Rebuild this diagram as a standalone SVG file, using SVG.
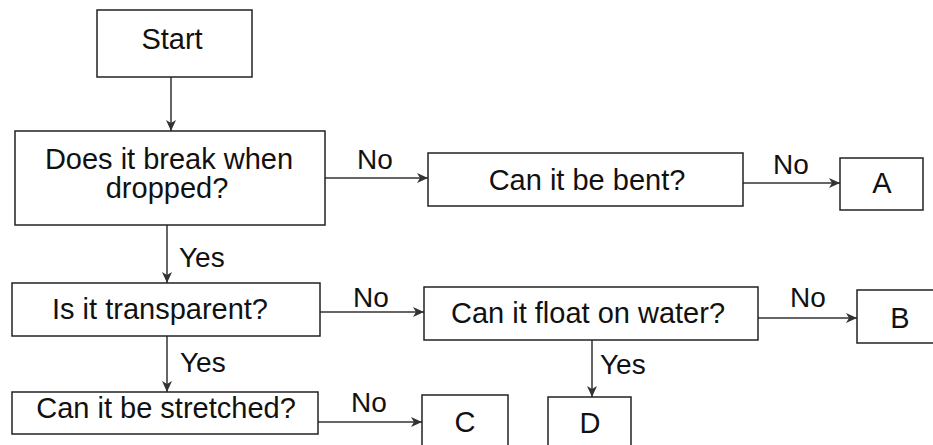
<svg xmlns="http://www.w3.org/2000/svg" width="933" height="445" viewBox="0 0 933 445">
<defs>
<style>
.box{fill:#fff;stroke:#222;stroke-width:1.5}
.t{font-family:"Liberation Sans",Arial,sans-serif;font-size:29px;fill:#111;text-anchor:middle}
.l{font-family:"Liberation Sans",Arial,sans-serif;font-size:28px;fill:#111}
.c{stroke:#333;stroke-width:1.5;fill:none;marker-end:url(#ah)}
</style>
<marker id="ah" markerWidth="12" markerHeight="10" refX="11" refY="5" orient="auto" markerUnits="userSpaceOnUse">
<path d="M0,0 L11,5 L0,10 L3,5 Z" fill="#333"/>
</marker>
</defs>
<rect width="933" height="445" fill="#fff"/>
<g id="connectors">
<line class="c" x1="171" y1="77" x2="171" y2="131"/>
<line class="c" x1="325" y1="178" x2="428" y2="178"/>
<line class="c" x1="743" y1="183" x2="840" y2="183"/>
<line class="c" x1="167" y1="225" x2="167" y2="283"/>
<line class="c" x1="320" y1="312" x2="424" y2="312"/>
<line class="c" x1="758" y1="318" x2="857" y2="318"/>
<line class="c" x1="592" y1="340" x2="592" y2="397"/>
<line class="c" x1="167" y1="336" x2="167" y2="392"/>
<line class="c" x1="318" y1="422" x2="422" y2="422"/>
<text class="l" x="375" y="169" text-anchor="middle">No</text>
<text class="l" x="791" y="174" text-anchor="middle">No</text>
<text class="l" x="179" y="267">Yes</text>
<text class="l" x="371" y="307" text-anchor="middle">No</text>
<text class="l" x="808" y="307" text-anchor="middle">No</text>
<text class="l" x="600" y="374">Yes</text>
<text class="l" x="180" y="372">Yes</text>
<text class="l" x="369" y="412" text-anchor="middle">No</text>
</g>
<g id="start">
<rect class="box" x="97" y="10" width="155" height="67"/>
<text class="t" x="172" y="49">Start</text>
</g>
<g id="break">
<rect class="box" x="15" y="131" width="310" height="94"/>
<text class="t" x="169" y="169">Does it break when</text>
<text class="t" x="167" y="198">dropped?</text>
</g>
<g id="bent">
<rect class="box" x="428" y="153" width="315" height="53"/>
<text class="t" x="587" y="190">Can it be bent?</text>
</g>
<g id="A">
<rect class="box" x="840" y="158" width="83" height="52"/>
<text class="t" x="882" y="193">A</text>
</g>
<g id="transparent">
<rect class="box" x="12" y="283" width="308" height="53"/>
<text class="t" x="160" y="319">Is it transparent?</text>
</g>
<g id="float">
<rect class="box" x="424" y="287" width="334" height="53"/>
<text class="t" x="588" y="323">Can it float on water?</text>
</g>
<g id="B">
<rect class="box" x="857" y="290" width="90" height="53"/>
<text class="t" x="900" y="328">B</text>
</g>
<g id="stretched">
<rect class="box" x="12" y="392" width="306" height="42"/>
<text class="t" x="166" y="418">Can it be stretched?</text>
</g>
<g id="C">
<rect class="box" x="422" y="395" width="86" height="70"/>
<text class="t" x="465" y="432">C</text>
</g>
<g id="D">
<rect class="box" x="548" y="397" width="83" height="70"/>
<text class="t" x="590" y="433">D</text>
</g>
</svg>
